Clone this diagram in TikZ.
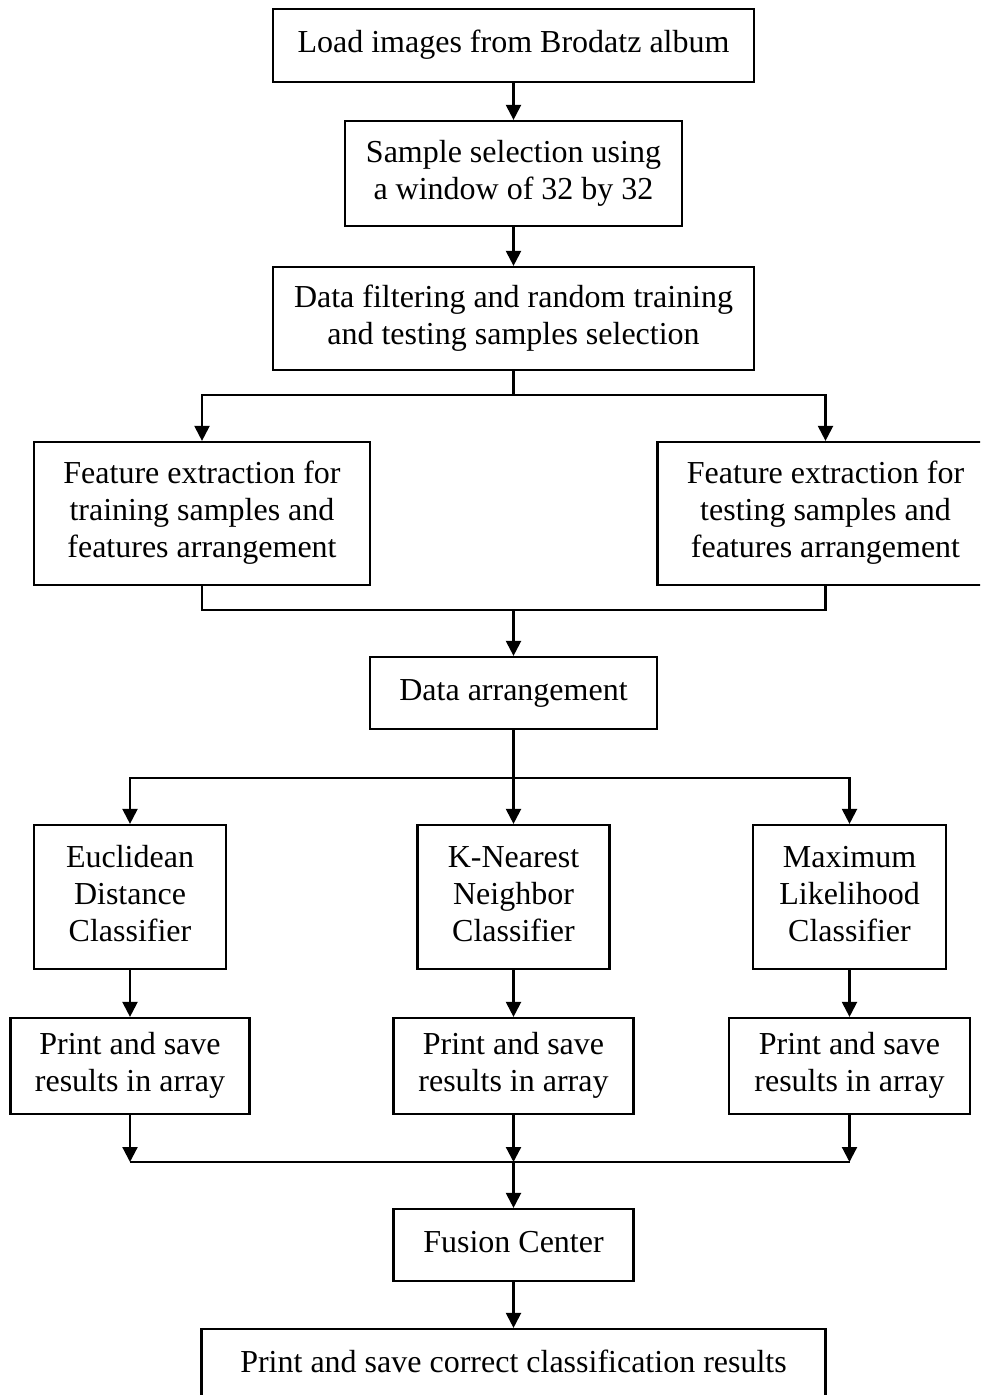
\documentclass[tikz,border=0pt]{standalone}
\usepackage{fontspec}
\setmainfont{Liberation Serif}
\usetikzlibrary{arrows.meta}

% box text: centred lines, set slightly above the box centre
\newcommand{\boxtext}[1]{\raisebox{1.75pt}{\begin{tabular}{@{}c@{}}#1\end{tabular}}}

\begin{document}
\begin{tikzpicture}[x=0.5pt,y=-0.5pt,
  blk/.style={draw, line width=1.1pt, align=center, inner sep=0pt,
              font=\fontsize{16}{18.5}\selectfont},
  conn/.style={line width=1.1pt},
  arr/.style={conn, -{Triangle[width=7.5pt,length=7.5pt]}}]

\clip (0,0) rectangle (980,1395);
\fill[white] (0,0) rectangle (980,1395);

% process boxes (sizes given in pt, half of the pixel grid)
\node[blk, minimum width=240.5pt, minimum height=36.5pt] (load)   at (513.5,45.5)  {\boxtext{Load images from Brodatz album}};
\node[blk, minimum width=168.5pt, minimum height=52.5pt] (sample) at (513.5,173.5) {\boxtext{Sample selection using\\a window of 32 by 32}};
\node[blk, minimum width=240.5pt, minimum height=51.5pt] (filter) at (513.5,318.5) {\boxtext{Data filtering and random training\\and testing samples selection}};
\node[blk, minimum width=168pt, minimum height=71.5pt]   (featL)  at (202,513.5)   {\boxtext{Feature extraction for\\training samples and\\features arrangement}};
\node[blk, minimum width=168pt, minimum height=71.5pt]   (featR)  at (825.5,513.5) {\boxtext{Feature extraction for\\testing samples and\\features arrangement}};
\node[blk, minimum width=143.5pt, minimum height=36pt]   (arrange) at (513.5,693)  {\boxtext{Data arrangement}};
\node[blk, minimum width=96pt, minimum height=72pt]      (eucl)   at (130,897)     {\boxtext{Euclidean\\Distance\\Classifier}};
\node[blk, minimum width=96pt, minimum height=72pt]      (knn)    at (513.5,897)   {\boxtext{K-Nearest\\Neighbor\\Classifier}};
\node[blk, minimum width=96.5pt, minimum height=72pt]    (ml)     at (849.5,897)   {\boxtext{Maximum\\Likelihood\\Classifier}};
\node[blk, minimum width=119.5pt, minimum height=48pt]   (printL) at (130,1066)    {\boxtext{Print and save\\results in array}};
\node[blk, minimum width=120pt, minimum height=48pt]     (printM) at (513.5,1066)  {\boxtext{Print and save\\results in array}};
\node[blk, minimum width=120.5pt, minimum height=48pt]   (printR) at (849.5,1066)  {\boxtext{Print and save\\results in array}};
\node[blk, minimum width=120pt, minimum height=36pt]     (fusion) at (513.5,1245)  {\boxtext{Fusion Center}};
\node[blk, minimum width=312pt, minimum height=36.5pt]   (final)  at (513.5,1365.5) {\boxtext{Print and save correct classification results}};

% junction points
\coordinate (split1) at (513.5,395);
\coordinate (merge1) at (513.5,610);
\coordinate (split2) at (513.5,778);
\coordinate (joinL)  at (130,1162);
\coordinate (joinM)  at (513.5,1162);
\coordinate (joinR)  at (849.5,1162);

% connectors
\draw[arr] (load) -- (sample);
\draw[arr] (sample) -- (filter);
\draw[conn] (filter.south) -- (split1);
\draw[arr] (split1) -| (featL.north);
\draw[arr] (split1) -| (featR.north);
\draw[conn] (featL.south) |- (merge1) -| (featR.south);
\draw[arr] (merge1) -- (arrange.north);
\draw[arr] (arrange.south) -- (knn.north);
\draw[arr] (split2) -| (eucl.north);
\draw[arr] (split2) -| (ml.north);
\draw[arr] (eucl) -- (printL);
\draw[arr] (knn) -- (printM);
\draw[arr] (ml) -- (printR);
\draw[arr] (printL.south) -- (joinL);
\draw[arr] (printM.south) -- (joinM);
\draw[arr] (printR.south) -- (joinR);
\draw[conn] (joinL) -- (joinR);
\draw[arr] (joinM) -- (fusion.north);
\draw[arr] (fusion) -- (final);

\end{tikzpicture}
\end{document}
